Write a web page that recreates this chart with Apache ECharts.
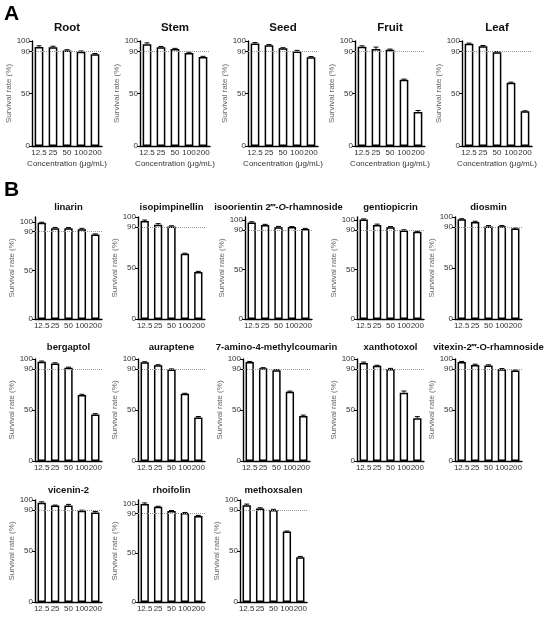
<!DOCTYPE html>
<html>
<head>
<meta charset="utf-8">
<script src="https://cdn.jsdelivr.net/npm/echarts@6/dist/echarts.min.js"></script>
<style>
  html, body { margin: 0; background: #fff; }
  #chart { width: 550px; height: 617px; }
</style>
</head>
<body>
<div id="chart"></div>
<script>
// ---- data ----
var concentrations = ['12.5', '25', '50', '100', '200'];
var yTicks = [0, 50, 90, 100];

// panel A (plant parts)
var root = [94.4, 94.1, 91.0, 89.7, 87.5];
var rootErr = [1.0, 0.9, 0.7, 0.8, 0.6];
var stem = [97.0, 94.0, 92.4, 88.5, 84.8];
var stemErr = [1.2, 0.8, 0.6, 0.8, 0.6];
var seed = [97.6, 96.0, 93.0, 90.0, 84.6];
var seedErr = [0.9, 0.6, 0.6, 1.1, 0.6];
var fruit = [94.6, 92.4, 91.7, 63.0, 32.5];
var fruitErr = [0.8, 1.8, 0.6, 0.7, 1.3];
var leaf = [97.4, 94.9, 89.4, 60.3, 33.0];
var leafErr = [0.6, 0.8, 0.5, 0.5, 0.5];

// panel B (compounds)
var linarin = [99.0, 93.5, 93.5, 92.5, 87.0];
var linarinErr = [0.6, 0.8, 0.6, 0.8, 0.6];
var isopimpinellin = [96.0, 92.5, 90.8, 64.0, 46.0];
var isopimpinellinErr = [1.0, 1.0, 0.6, 0.5, 0.7];
var isoorientin = [97.4, 94.8, 92.6, 92.8, 91.0];
var isoorientinErr = [0.8, 0.8, 0.9, 0.5, 0.5];
var gentiopicrin = [100.5, 95.0, 92.7, 89.3, 88.0];
var gentiopicrinErr = [0.6, 0.8, 0.6, 0.8, 0.6];
var diosmin = [97.7, 95.0, 90.7, 91.0, 88.7];
var diosminErr = [0.6, 0.8, 0.9, 0.6, 0.5];
var bergaptol = [97.4, 95.7, 91.5, 64.6, 45.6];
var bergaptolErr = [0.6, 0.6, 0.5, 0.8, 0.8];
var auraptene = [96.7, 93.8, 89.8, 65.9, 42.6];
var auraptenErr = [0.6, 0.6, 0.5, 0.5, 1.0];
var amino = [97.0, 91.0, 89.0, 68.0, 44.2];
var aminoErr = [0.6, 0.5, 0.5, 0.5, 0.8];
var xanthotoxol = [96.0, 93.3, 90.3, 67.0, 42.0];
var xanthotoxolErr = [1.0, 0.6, 0.5, 1.6, 1.5];
var vitexin = [97.0, 94.0, 93.7, 90.0, 88.7];
var vitexinErr = [0.6, 0.9, 0.6, 0.6, 0.5];
var vicenin = [97.4, 94.5, 94.5, 89.4, 87.7];
var viceninErr = [0.8, 0.5, 1.2, 0.6, 1.0];
var rhoifolin = [100.0, 97.0, 92.7, 90.7, 87.7];
var rhoifolinErr = [1.0, 0.6, 0.6, 0.6, 0.6];
var methoxsalen = [94.8, 91.6, 90.3, 69.0, 43.9];
var methoxsalenErr = [1.2, 0.8, 0.6, 0.6, 0.8];

var panelsA = [
  { title: 'Root', values: root, err: rootErr, max: 100 },
  { title: 'Stem', values: stem, err: stemErr, max: 100 },
  { title: 'Seed', values: seed, err: seedErr, max: 100 },
  { title: 'Fruit', values: fruit, err: fruitErr, max: 100 },
  { title: 'Leaf', values: leaf, err: leafErr, max: 100 }
];
var panelsB = [
  { title: 'linarin', values: linarin, err: linarinErr, max: 105 },
  { title: 'isopimpinellin', values: isopimpinellin, err: isopimpinellinErr, max: 100 },
  { title: '{b|isoorientin 2\u2034-}{i|O}{b|-rhamnoside}', values: isoorientin, err: isoorientinErr, max: 103 },
  { title: 'gentiopicrin', values: gentiopicrin, err: gentiopicrinErr, max: 103 },
  { title: 'diosmin', values: diosmin, err: diosminErr, max: 100 },
  { title: 'bergaptol', values: bergaptol, err: bergaptolErr, max: 100 },
  { title: 'auraptene', values: auraptene, err: auraptenErr, max: 100 },
  { title: '7-amino-4-methylcoumarin', values: amino, err: aminoErr, max: 100 },
  { title: 'xanthotoxol', values: xanthotoxol, err: xanthotoxolErr, max: 100 },
  { title: 'vitexin-2\u2034-O-rhamnoside', values: vitexin, err: vitexinErr, max: 100 },
  { title: 'vicenin-2', values: vicenin, err: viceninErr, max: 100 },
  { title: 'rhoifolin', values: rhoifolin, err: rhoifolinErr, max: 104 },
  { title: 'methoxsalen', values: methoxsalen, err: methoxsalenErr, max: 100 }
];

// ---- layout ----
var FONT = '"Liberation Sans", Arial, sans-serif';
var slotsA = [32, 140, 248, 355, 462].map(function (l) {
  return { left: l, top: 41, width: 70, height: 105, titleY: 28, xName: true, titleSize: 11.5 };
});
var slotsB = [];
[[35, 138, 245, 357, 455], [35, 138, 243, 357, 455], [35, 138, 240]].forEach(function (row, r) {
  var top = [217, 359, 500][r];
  var ty = [207, 347, 490][r];
  row.forEach(function (l) {
    slotsB.push({ left: l, top: top, width: 67, height: 102, titleY: ty, xName: false, titleSize: 9.5 });
  });
});

var panels = panelsA.concat(panelsB);
var slots = slotsA.concat(slotsB);

var grids = [], xAxes = [], yAxes = [], series = [], graphics = [];

function errRender(params, api) {
  var v = api.value(1), e = api.value(2);
  var base = api.coord([api.value(0), v]);
  var top = api.coord([api.value(0), v + e]);
  var st = { stroke: '#000', lineWidth: 1 };
  return {
    type: 'group',
    children: [
      { type: 'line', shape: { x1: top[0], y1: base[1], x2: top[0], y2: top[1] }, style: st },
      { type: 'line', shape: { x1: top[0] - 2.5, y1: top[1], x2: top[0] + 2.5, y2: top[1] }, style: st }
    ]
  };
}

panels.forEach(function (p, i) {
  var s = slots[i];
  grids.push({ left: s.left, top: s.top, width: s.width, height: s.height });
  xAxes.push({
    type: 'category', gridIndex: i, data: concentrations,
    axisLine: { lineStyle: { color: '#000', width: 1.4 } },
    axisTick: { alignWithLabel: true, length: 2.5, lineStyle: { color: '#000' } },
    axisLabel: { interval: 0, fontSize: 8, color: '#333', margin: 3, fontFamily: FONT },
    name: s.xName ? 'Concentration (\u03bcg/mL)' : '',
    nameLocation: 'middle', nameGap: 14,
    nameTextStyle: { fontSize: 8, color: '#333', fontFamily: FONT }
  });
  yAxes.push({
    type: 'value', gridIndex: i, min: 0, max: p.max,
    axisLine: { show: true, lineStyle: { color: '#000', width: 1.4 } },
    axisTick: { show: true, customValues: yTicks, length: 3, lineStyle: { color: '#000' } },
    axisLabel: { customValues: yTicks, fontSize: 8, color: '#333', margin: 2, fontFamily: FONT },
    splitLine: { show: false },
    name: 'Survival rate (%)', nameLocation: 'middle', nameGap: 16,
    nameTextStyle: { fontSize: 8, color: '#666', fontFamily: FONT }
  });
  series.push({
    type: 'line', xAxisIndex: i, yAxisIndex: i, data: [], z: 1, silent: true,
    markLine: {
      silent: true, symbol: 'none', label: { show: false },
      lineStyle: { type: 'dotted', color: '#999', width: 1 },
      data: [{ yAxis: 90 }]
    }
  });
  series.push({
    type: 'bar', xAxisIndex: i, yAxisIndex: i, data: p.values, z: 2,
    barWidth: '62%',
    itemStyle: { color: '#fff', borderColor: '#000', borderWidth: 1.5 }
  });
  series.push({
    type: 'custom', xAxisIndex: i, yAxisIndex: i, z: 3,
    renderItem: errRender,
    encode: { x: 0, y: 1 },
    data: p.values.map(function (v, k) { return [k, v, p.err[k]]; })
  });
  var bold = 'bold ' + s.titleSize + 'px ' + FONT;
  graphics.push({
    type: 'text', x: s.left + s.width / 2, y: s.titleY,
    style: {
      text: p.title, font: bold, fill: '#111',
      textAlign: 'center', textVerticalAlign: 'middle',
      rich: {
        b: { font: bold, fill: '#111' },
        i: { font: 'italic ' + bold, fill: '#111' }
      }
    }
  });
});

graphics.push({ type: 'text', x: 4, y: 4, style: { text: 'A', font: 'bold 21px ' + FONT, fill: '#000' } });
graphics.push({ type: 'text', x: 4, y: 180, style: { text: 'B', font: 'bold 21px ' + FONT, fill: '#000' } });

var chart = echarts.init(document.getElementById('chart'));
chart.setOption({
  animation: false,
  backgroundColor: '#fff',
  grid: grids,
  xAxis: xAxes,
  yAxis: yAxes,
  series: series,
  graphic: graphics
});
</script>
</body>
</html>
